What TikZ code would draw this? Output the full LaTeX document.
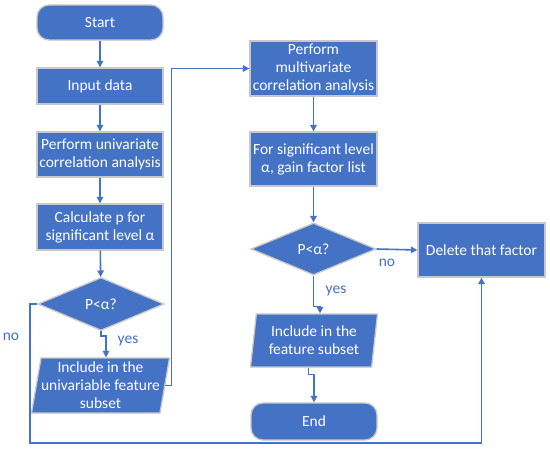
\documentclass[tikz,border=0pt]{standalone}
\usepackage{fontspec}
\setmainfont{Carlito}
\usetikzlibrary{shapes.geometric,arrows.meta,calc}
\definecolor{obl}{HTML}{4472C4}
\definecolor{bord}{HTML}{C8C8C8}
\begin{document}
\begin{tikzpicture}[x=1pt,y=-1pt,
  txt/.style={text=white,align=center,font=\fontsize{15.5}{18}\selectfont},
  box/.style={txt,rectangle,fill=obl,draw=bord,line width=1.3pt,minimum width=126pt,inner sep=0pt},
  term/.style={box,rounded corners=12pt},
  dec/.style={txt,diamond,fill=obl,draw=bord,line width=1.3pt,inner sep=0pt,minimum width=126pt},
  io/.style={txt,trapezium,trapezium left angle=78.5,trapezium right angle=101.5,trapezium stretches body,fill=obl,draw=bord,line width=1.3pt,inner sep=0pt,minimum width=127pt},
  conn/.style={draw=obl,line width=1.6pt,-{Triangle[length=6.5pt,width=6.5pt]}},
  lab/.style={text=obl,font=\fontsize{15.5}{17}\selectfont}]
\useasboundingbox (0,0) rectangle (550,450);
\fill[white] (0,0) rectangle (550,450);
\node[term,minimum height=35pt] (start) at (100,22.5) {Start};
\node[box,minimum height=36pt] (input) at (100,86) {Input data};
\node[box,minimum height=45pt] (univ) at (100,154.5) {Perform univariate\\correlation analysis};
\node[box,minimum height=46pt] (calc) at (100,227) {Calculate p for\\significant level α};
\node[dec,minimum height=53pt] (d1) at (101,304) {P<α?};
\node[io,minimum height=55pt] (p1) at (100.5,385.5) {Include in the\\univariable feature\\subset};
\node[box,minimum width=127pt,minimum height=55pt] (multi) at (313.5,68.5) {Perform\\multivariate\\correlation analysis};
\node[box,minimum width=127pt,minimum height=54pt] (fors) at (313.5,159) {For significant level\\α, gain factor list};
\node[dec,minimum width=125pt,minimum height=52pt] (d2) at (313.5,249) {P<α?};
\node[box,minimum width=127pt,minimum height=54pt] (del) at (481.5,250) {Delete that factor};
\node[io,minimum height=53pt] (p2) at (314,340.5) {Include in the\\feature subset};
\node[term,minimum height=37pt] (end) at (314,421.5) {End};
\coordinate (lb) at (30,443);
\draw[conn] (start) -- (input);
\draw[conn] (input) -- (univ);
\draw[conn] (univ) -- (calc);
\draw[conn] (calc) -- (d1);
\draw[conn] (d1.south) -- ++(0,5) -| ($(p1.north)+(5.5,0)$);
\draw[conn] (p1.east) -| ($(multi.west)+(-78,0)$) -- (multi.west);
\draw[conn] (multi) -- (fors);
\draw[conn] (fors) -- (d2);
\draw[conn] (d2.east) -- (del.west);
\draw[conn] (d2.south) |- ($(p2.north)+(6,-7)$) -- ($(p2.north)+(6,0)$);
\draw[conn] ($(p2.south)+(-5.5,0)$) -- ++(0,7) -| (end.north);
\draw[conn] (d1.west) -| (lb) -| (del.south);
\node[lab] (yes1) at (128,341) {yes};
\node[lab] (no1) at (11,337) {no};
\node[lab] (yes2) at (336,291) {yes};
\node[lab] (no2) at (387,263) {no};
\end{tikzpicture}
\end{document}
